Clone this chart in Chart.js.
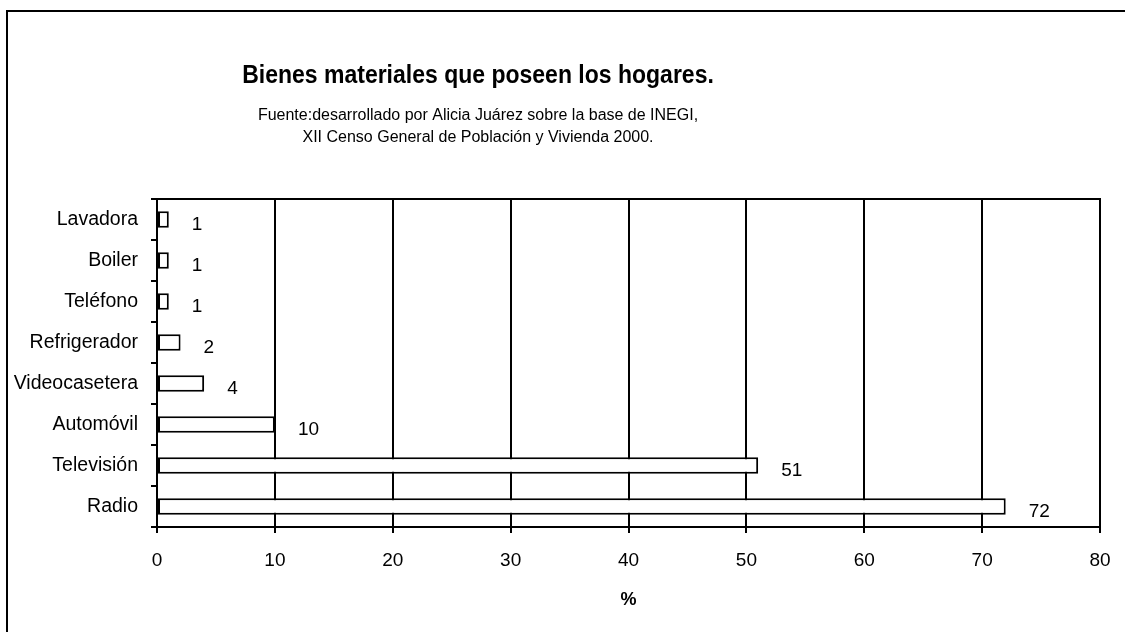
<!DOCTYPE html>
<html>
<head>
<meta charset="utf-8">
<style>
  html, body { margin: 0; padding: 0; background: #fff; }
  #wrap { width: 1125px; height: 632px; }
</style>
<script src="https://cdn.jsdelivr.net/npm/chart.js@4/dist/chart.umd.min.js"></script>
</head>
<body>
<div id="wrap"><canvas id="c" width="1125" height="632"></canvas></div>
<script>
// Household goods, share of homes (%)
const categories = ['Lavadora', 'Boiler', 'Teléfono', 'Refrigerador', 'Videocasetera', 'Automóvil', 'Televisión', 'Radio'];
const values = [1, 1, 1, 2, 4, 10, 51, 72];
const xTicks = [0, 10, 20, 30, 40, 50, 60, 70, 80];

const titleText = 'Bienes materiales que poseen los hogares.';
const subtitleLines = [
  'Fuente:desarrollado por Alicia Juárez sobre la base de INEGI,',
  'XII Censo General de Población y Vivienda 2000.'
];
const axisTitle = '%';

const FONT = '"Liberation Sans", Arial, Helvetica, sans-serif';

// Frame, heading, top/right edges of the plot and value labels
const decorations = {
  id: 'decorations',
  beforeDraw(chart) {
    const ctx = chart.ctx;
    ctx.save();
    ctx.fillStyle = '#fff';
    ctx.fillRect(0, 0, chart.width, chart.height);
    ctx.strokeStyle = '#000';
    ctx.lineWidth = 2;
    ctx.beginPath();
    ctx.moveTo(7, chart.height);
    ctx.lineTo(7, 11);
    ctx.lineTo(chart.width, 11);
    ctx.stroke();

    ctx.fillStyle = '#000';
    ctx.textAlign = 'center';
    ctx.textBaseline = 'middle';
    // heading is set slightly tall
    ctx.save();
    ctx.translate(478, 76);
    ctx.scale(1, 1.1);
    ctx.font = 'bold 23px ' + FONT;
    ctx.fillText(titleText, 0, 0);
    ctx.restore();
    ctx.font = '16px ' + FONT;
    subtitleLines.forEach((line, i) => ctx.fillText(line, 478, 116 + i * 22));
    ctx.restore();
  },
  afterDraw(chart) {
    const ctx = chart.ctx;
    const area = chart.chartArea;
    ctx.save();
    ctx.strokeStyle = '#000';
    ctx.lineWidth = 2;
    ctx.beginPath();
    ctx.moveTo(area.left, area.top);
    ctx.lineTo(area.right, area.top);
    ctx.lineTo(area.right, area.bottom);
    ctx.stroke();

    ctx.fillStyle = '#000';
    ctx.font = '19px ' + FONT;
    ctx.textAlign = 'left';
    ctx.textBaseline = 'middle';
    const meta = chart.getDatasetMeta(0);
    meta.data.forEach((bar, i) => {
      ctx.fillText(String(values[i]), bar.x + 23, bar.y + 5);
    });
    ctx.restore();
  }
};

new Chart(document.getElementById('c'), {
  type: 'bar',
  data: {
    labels: categories,
    datasets: [{
      data: values,
      backgroundColor: '#fff',
      borderColor: '#000',
      borderWidth: 2,
      borderSkipped: false,
      categoryPercentage: 1,
      barPercentage: 0.4
    }]
  },
  options: {
    indexAxis: 'y',
    responsive: false,
    animation: false,
    devicePixelRatio: 1,
    layout: { padding: { top: 199, right: 25, left: 0, bottom: 0 } },
    plugins: {
      legend: { display: false },
      tooltip: { enabled: false }
    },
    scales: {
      x: {
        min: 0,
        max: 80,
        afterBuildTicks(scale) { scale.ticks = xTicks.map(v => ({ value: v })); },
        afterFit(scale) {
          scale.height = 105;
          scale.paddingLeft = 0;
          scale.paddingRight = 0;
        },
        grid: { color: '#000', lineWidth: 2, drawTicks: true, tickLength: 6, tickColor: '#000' },
        border: { display: true, color: '#000', width: 2 },
        ticks: { color: '#000', font: { family: FONT, size: 19 }, padding: 16, maxRotation: 0 },
        title: {
          display: true,
          text: axisTitle,
          color: '#000',
          font: { family: FONT, size: 18, weight: 'bold' },
          padding: { top: 0, bottom: 21 }
        }
      },
      y: {
        afterFit(scale) { scale.width = 157; },
        grid: { display: true, drawOnChartArea: false, drawTicks: true, tickLength: 6, color: '#000', lineWidth: 2, offset: true },
        border: { display: true, color: '#000', width: 2 },
        ticks: { color: '#000', font: { family: FONT, size: 19.5 }, padding: 13 }
      }
    }
  },
  plugins: [decorations]
});
</script>
</body>
</html>
